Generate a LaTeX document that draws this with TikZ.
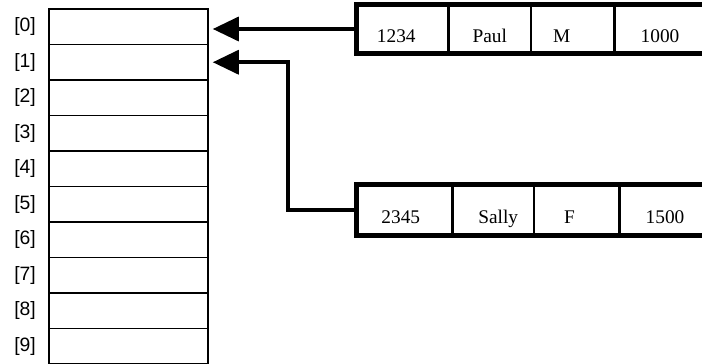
\documentclass[tikz,border=0pt]{standalone}
\usepackage{fontspec}
\setmainfont{Liberation Serif}
\newfontfamily\labelfont{Liberation Sans}
\usetikzlibrary{arrows.meta, positioning}

\tikzset{
  cell/.style={draw, line width=0.9pt, minimum width=3.18cm, minimum height=0.71cm, inner sep=0pt},
  idx/.style={font=\labelfont\fontsize{11}{13}\selectfont},
  field/.style={minimum height=#1, inner sep=0pt, text height=0.56cm, text depth=0pt,
    font=\fontsize{11}{13}\selectfont},
  outer/.style={line width=2.7pt},
  divthick/.style={line width=1.9pt},
  divthin/.style={line width=1pt},
  ptr/.style={line width=2pt, -{Triangle[length=0.52cm,width=0.48cm]}}
}

\begin{document}
\begin{tikzpicture}[x=0.02cm, y=-0.02cm]
  \useasboundingbox (0,0) rectangle (702,364);

  % the array of ten slots
  \foreach \i in {0,...,9} {
    \node[cell] (c\i) at (128.5, 26.75+35.5*\i) {};
    \node[idx] (l\i) at (25, 26.75+35.5*\i) {[\i]};
  }

  % first record
  \node[field=0.96cm, minimum width=1.82cm] (r1a) at (402.5, 29) {1234\hspace{0.25cm}\null};
  \node[field=0.96cm, minimum width=1.64cm, right=0pt of r1a] (r1b) {Paul};
  \node[field=0.96cm, minimum width=1.66cm, right=0pt of r1b] (r1c) {M\hspace{0.45cm}\null};
  \node[field=0.96cm, minimum width=1.8cm, right=0pt of r1c] (r1d) {1000};
  \draw[outer] (r1a.north west) rectangle (r1d.south east);
  \draw[divthick] (r1a.north east) -- ([yshift=-0.06cm]r1a.south east);
  \draw[divthin] (r1b.north east) -- (r1b.south east);
  \draw[divthick] (r1c.north east) -- (r1c.south east);

  % second record
  \node[field=1cm, minimum width=1.9cm] (r2a) at (404.5, 210) {2345\hspace{0.15cm}\null};
  \node[field=1cm, minimum width=1.62cm, right=0pt of r2a] (r2b) {\hspace{0.2cm}Sally};
  \node[field=1cm, minimum width=1.7cm, right=0pt of r2b] (r2c) {F\hspace{0.3cm}\null};
  \node[field=1cm, minimum width=1.8cm, right=0pt of r2c] (r2d) {1500};
  \draw[outer] (r2a.north west) rectangle (r2d.south east);
  \draw[divthick] (r2a.north east) -- ([yshift=-0.06cm]r2a.south east);
  \draw[divthin] (r2b.north east) -- (r2b.south east);
  \draw[divthick] (r2c.north east) -- (r2c.south east);

  % pointers
  \draw[ptr] (r1a.west) -- ([xshift=0.08cm]r1a.west -| c0.east);
  \coordinate (bend) at (288, 210);
  \draw[ptr] (r2a.west) -- (bend) |- ([xshift=0.08cm]c1.east);
\end{tikzpicture}
\end{document}
